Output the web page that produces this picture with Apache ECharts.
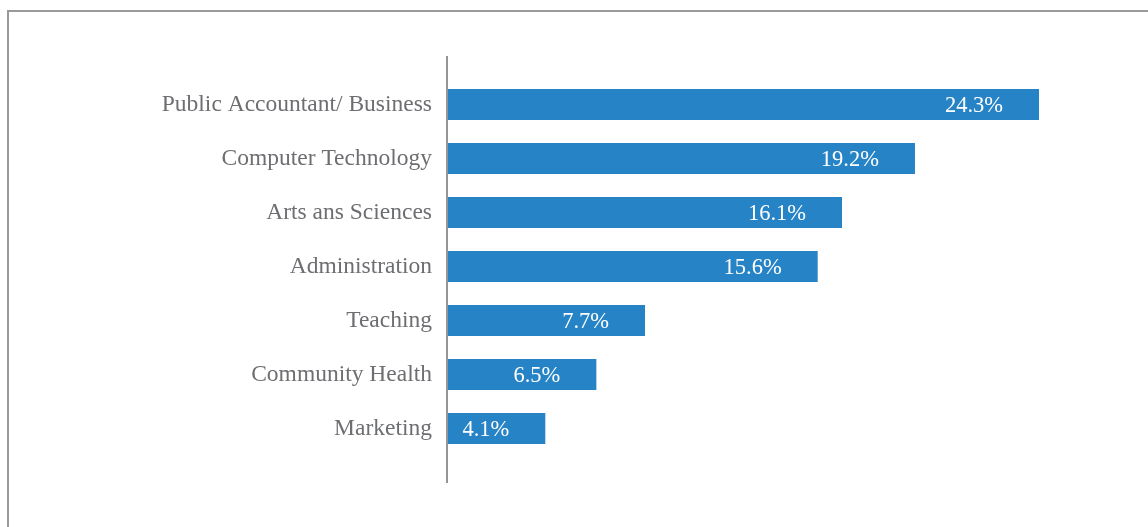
<!DOCTYPE html>
<html>
<head>
<meta charset="utf-8">
<script src="https://cdn.jsdelivr.net/npm/echarts@6/dist/echarts.min.js"></script>
<style>
  html, body { margin: 0; padding: 0; background: #fff; }
  #main { width: 1148px; height: 527px; }
</style>
</head>
<body>
<div id="main"></div>
<script>
// 数据（从上到下）
const categories = ['Public Accountant/ Business', 'Computer Technology', 'Arts ans Sciences',
  'Administration', 'Teaching', 'Community Health', 'Marketing'];
// 条形长度（按图中像素读出）
const barValues = [24.3, 19.2, 16.2, 15.2, 8.1, 6.1, 4.0];
// 条上标注的文字
const labelTexts = ['24.3%', '19.2%', '16.1%', '15.6%', '7.7%', '6.5%', '4.1%'];

const chart = echarts.init(document.getElementById('main'));

const serif = '"Liberation Serif", "DejaVu Serif", serif';

chart.setOption({
  animation: false,
  grid: { left: 448, right: 19, top: 77.5, bottom: 71.5 },
  xAxis: {
    type: 'value',
    min: 0,
    max: 28,
    show: false
  },
  yAxis: {
    type: 'category',
    data: categories,
    inverse: true,
    axisLine: { show: false },
    axisTick: { show: false },
    axisLabel: {
      margin: 16,
      color: '#6d6e71',
      fontFamily: serif,
      fontSize: 23.5,
      padding: [3, 0, 0, 0]
    }
  },
  series: [{
    type: 'bar',
    data: barValues,
    barWidth: 31,
    itemStyle: { color: '#2683c6' },
    label: {
      show: true,
      position: 'insideRight',
      distance: 36,
      offset: [0, 1.5],
      color: '#fff',
      fontFamily: serif,
      fontSize: 22.5,
      formatter: p => labelTexts[p.dataIndex]
    }
  }],
  graphic: [
    {
      type: 'rect',
      shape: { x: 8, y: 11, width: 1170, height: 540 },
      style: { fill: 'none', stroke: '#9a9a9c', lineWidth: 2 },
      silent: true
    },
    {
      type: 'line',
      shape: { x1: 447, y1: 56, x2: 447, y2: 483 },
      style: { stroke: '#949598', lineWidth: 2 },
      silent: true
    }
  ]
});
</script>
</body>
</html>
